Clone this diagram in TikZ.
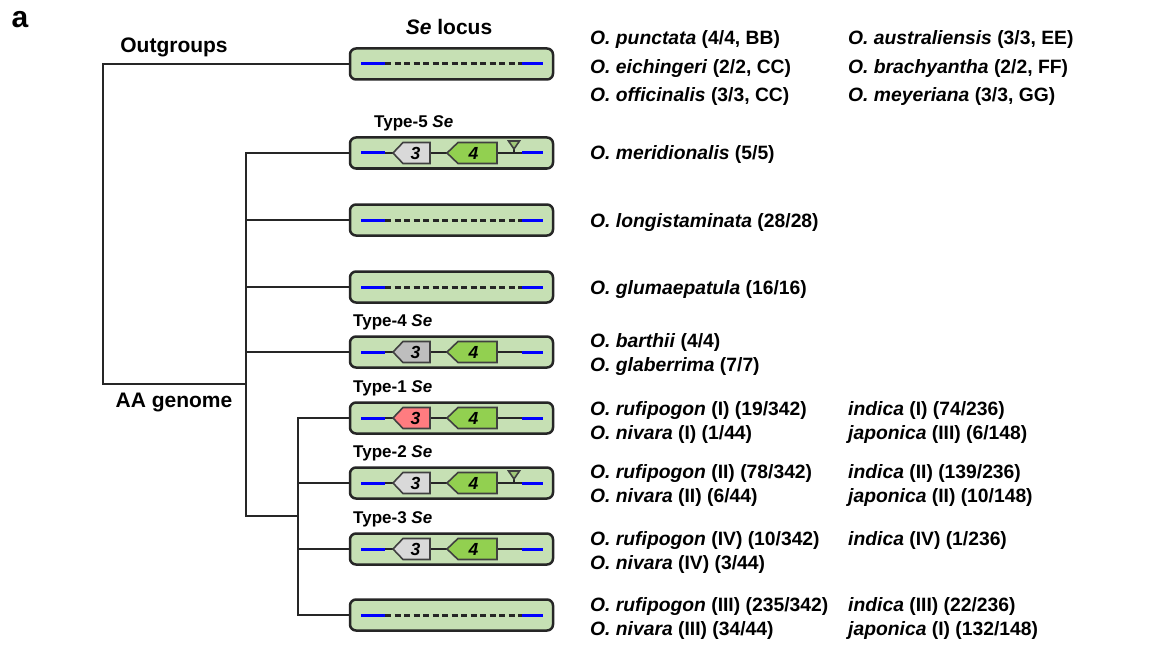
\documentclass[tikz,border=0pt]{standalone}
\usepackage{fontspec}
\setmainfont{Liberation Sans}
\definecolor{boxgreen}{RGB}{198,224,180}
\definecolor{genefour}{RGB}{146,208,80}
\definecolor{greylight}{RGB}{217,217,217}
\definecolor{greymid}{RGB}{190,190,190}
\definecolor{genered}{RGB}{255,124,128}
\definecolor{trigreen}{RGB}{160,200,120}
\definecolor{locusblue}{RGB}{0,0,255}
\tikzset{
  boxg/.style={draw=black!85, line width=2.5pt, rounded corners=6pt, fill=boxgreen,
    minimum width=203pt, minimum height=31pt, inner sep=0pt},
  tree/.style={line width=2.4pt, draw=black!85},
  blueln/.style={draw=locusblue, line width=3pt},
  dashln/.style={draw=black!85, line width=3pt, dash pattern=on 6pt off 3.5pt},
  blackln/.style={draw=black!85, line width=2.2pt},
  gene/.style={draw=black!75, line width=1.6pt, line join=miter},
  genetxt/.style={font=\fontsize{17.5}{19}\selectfont\bfseries\itshape, inner sep=0pt},
  txt/.style={anchor=base west, font=\fontsize{19.3}{21}\selectfont\bfseries, inner sep=0pt},
  typel/.style={anchor=base west, font=\fontsize{17}{19}\selectfont\bfseries, inner sep=0pt},
  head/.style={font=\fontsize{21}{24}\selectfont\bfseries, inner sep=0pt},
  emptylocus/.pic={
    \draw[blueln] (-90.5,0)--(-66.5,0);
    \draw[dashln] (-66.5,0)--(70.5,0);
    \draw[blueln] (70.5,0)--(91.5,0);}
}
% #1 box name, #2 colour of gene 3, #3 = 1 if a triangle is shown
\newcommand\genelocus[3]{%
\begin{scope}[shift={(#1.center)}]
 \draw[blueln] (-90.5,0)--(-66.5,0);
 \draw[blackln] (-66.5,0)--(-58.5,0);
 \draw[blackln] (-21.5,0)--(-4.5,0);
 \draw[blackln] (45.5,0)--(70.5,0);
 \draw[blueln] (70.5,0)--(91.5,0);
 \draw[gene, fill=#2] (-58.5,0)--(-48.5,-10.5)--(-21.5,-10.5)--(-21.5,10.5)--(-48.5,10.5)--cycle;
 \node[genetxt] (#1-g3) at (-36,0) {3};
 \draw[gene, fill=genefour] (-4.5,0)--(6.5,-10.5)--(45.5,-10.5)--(45.5,10.5)--(6.5,10.5)--cycle;
 \node[genetxt] (#1-g4) at (22,0) {4};
 \ifnum#3=1
   \draw[draw=black!85, line width=1.6pt] (62.5,-5)--(62.5,0);
   \draw[gene, fill=trigreen] (57,-12)--(68,-12)--(62.5,-4)--cycle;
 \fi
\end{scope}}
\begin{document}
\begin{tikzpicture}[x=1pt,y=-1pt]
\useasboundingbox[fill=white] (0,0) rectangle (1162,650);

% headings
\node[font=\fontsize{30}{32}\selectfont\bfseries, inner sep=0pt] (lab) at (20,20) {a};
\node[head] (outg) at (174,47) {Outgroups};
\node[head] (aag) at (174,402) {AA genome};
\node[head] (selocus) at (449,27) {\textit{Se} locus};

% locus boxes
\node[boxg] (out) at (451.5,64) {};
\node[boxg] (t5) at (451.5,153) {};
\node[boxg] (long) at (451.5,220) {};
\node[boxg] (glum) at (451.5,287) {};
\node[boxg] (t4) at (451.5,352) {};
\node[boxg] (t1) at (451.5,418) {};
\node[boxg] (t2) at (451.5,483) {};
\node[boxg] (t3) at (451.5,549) {};
\node[boxg] (last) at (451.5,615) {};

\pic at (out.center) {emptylocus};
\pic at (long.center) {emptylocus};
\pic at (glum.center) {emptylocus};
\pic at (last.center) {emptylocus};
\genelocus{t5}{greylight}{1}
\genelocus{t4}{greymid}{0}
\genelocus{t1}{genered}{0}
\genelocus{t2}{greylight}{1}
\genelocus{t3}{greylight}{0}

% tree
\coordinate (r) at (103,384);
\coordinate (a) at (246,384);
\coordinate (s) at (298,516);
\draw[tree] (out.west) -| (r) -- (a);
\draw[tree] (t5.west) -| (a);
\draw[tree] (s) -| (a);
\draw[tree] (long.west) -- (long.west -| a);
\draw[tree] (glum.west) -- (glum.west -| a);
\draw[tree] (t4.west) -- (t4.west -| a);
\draw[tree] (t1.west) -| (s);
\draw[tree] (last.west) -| (s);
\draw[tree] (t2.west) -- (t2.west -| s);
\draw[tree] (t3.west) -- (t3.west -| s);

% type labels
\node[typel] (ty5) at (374,128) {Type-5 \textit{Se}};
\node[typel] (ty4) at (353,326) {Type-4 \textit{Se}};
\node[typel] (ty1) at (353,392) {Type-1 \textit{Se}};
\node[typel] (ty2) at (353,457) {Type-2 \textit{Se}};
\node[typel] (ty3) at (353,523) {Type-3 \textit{Se}};

% species texts
\node[txt] (s1) at (590,45) {\textit{O. punctata} (4/4, BB)};
\node[txt] (s2) at (848,45) {\textit{O. australiensis} (3/3, EE)};
\node[txt] (s3) at (590,73.5) {\textit{O. eichingeri} (2/2, CC)};
\node[txt] (s4) at (848,73.5) {\textit{O. brachyantha} (2/2, FF)};
\node[txt] (s5) at (590,102) {\textit{O. officinalis} (3/3, CC)};
\node[txt] (s6) at (848,102) {\textit{O. meyeriana} (3/3, GG)};

\node[txt] (m1) at (590,160) {\textit{O. meridionalis} (5/5)};
\node[txt] (m2) at (590,227) {\textit{O. longistaminata} (28/28)};
\node[txt] (m3) at (590,294) {\textit{O. glumaepatula} (16/16)};
\node[txt] (m4) at (590,347) {\textit{O. barthii} (4/4)};
\node[txt] (m5) at (590,371) {\textit{O. glaberrima} (7/7)};

\node[txt] (a1) at (590,415) {\textit{O. rufipogon} (I) (19/342)};
\node[txt] (a2) at (848,415) {\textit{indica} (I) (74/236)};
\node[txt] (a3) at (590,439) {\textit{O. nivara} (I) (1/44)};
\node[txt] (a4) at (848,439) {\textit{japonica} (III) (6/148)};

\node[txt] (b1) at (590,478) {\textit{O. rufipogon} (II) (78/342)};
\node[txt] (b2) at (848,478) {\textit{indica} (II) (139/236)};
\node[txt] (b3) at (590,502) {\textit{O. nivara} (II) (6/44)};
\node[txt] (b4) at (848,502) {\textit{japonica} (II) (10/148)};

\node[txt] (c1) at (590,545) {\textit{O. rufipogon} (IV) (10/342)};
\node[txt] (c2) at (848,545) {\textit{indica} (IV) (1/236)};
\node[txt] (c3) at (590,569) {\textit{O. nivara} (IV) (3/44)};

\node[txt] (d1) at (590,611) {\textit{O. rufipogon} (III) (235/342)};
\node[txt] (d2) at (848,611) {\textit{indica} (III) (22/236)};
\node[txt] (d3) at (590,635) {\textit{O. nivara} (III) (34/44)};
\node[txt] (d4) at (848,635) {\textit{japonica} (I) (132/148)};
\end{tikzpicture}
\end{document}
